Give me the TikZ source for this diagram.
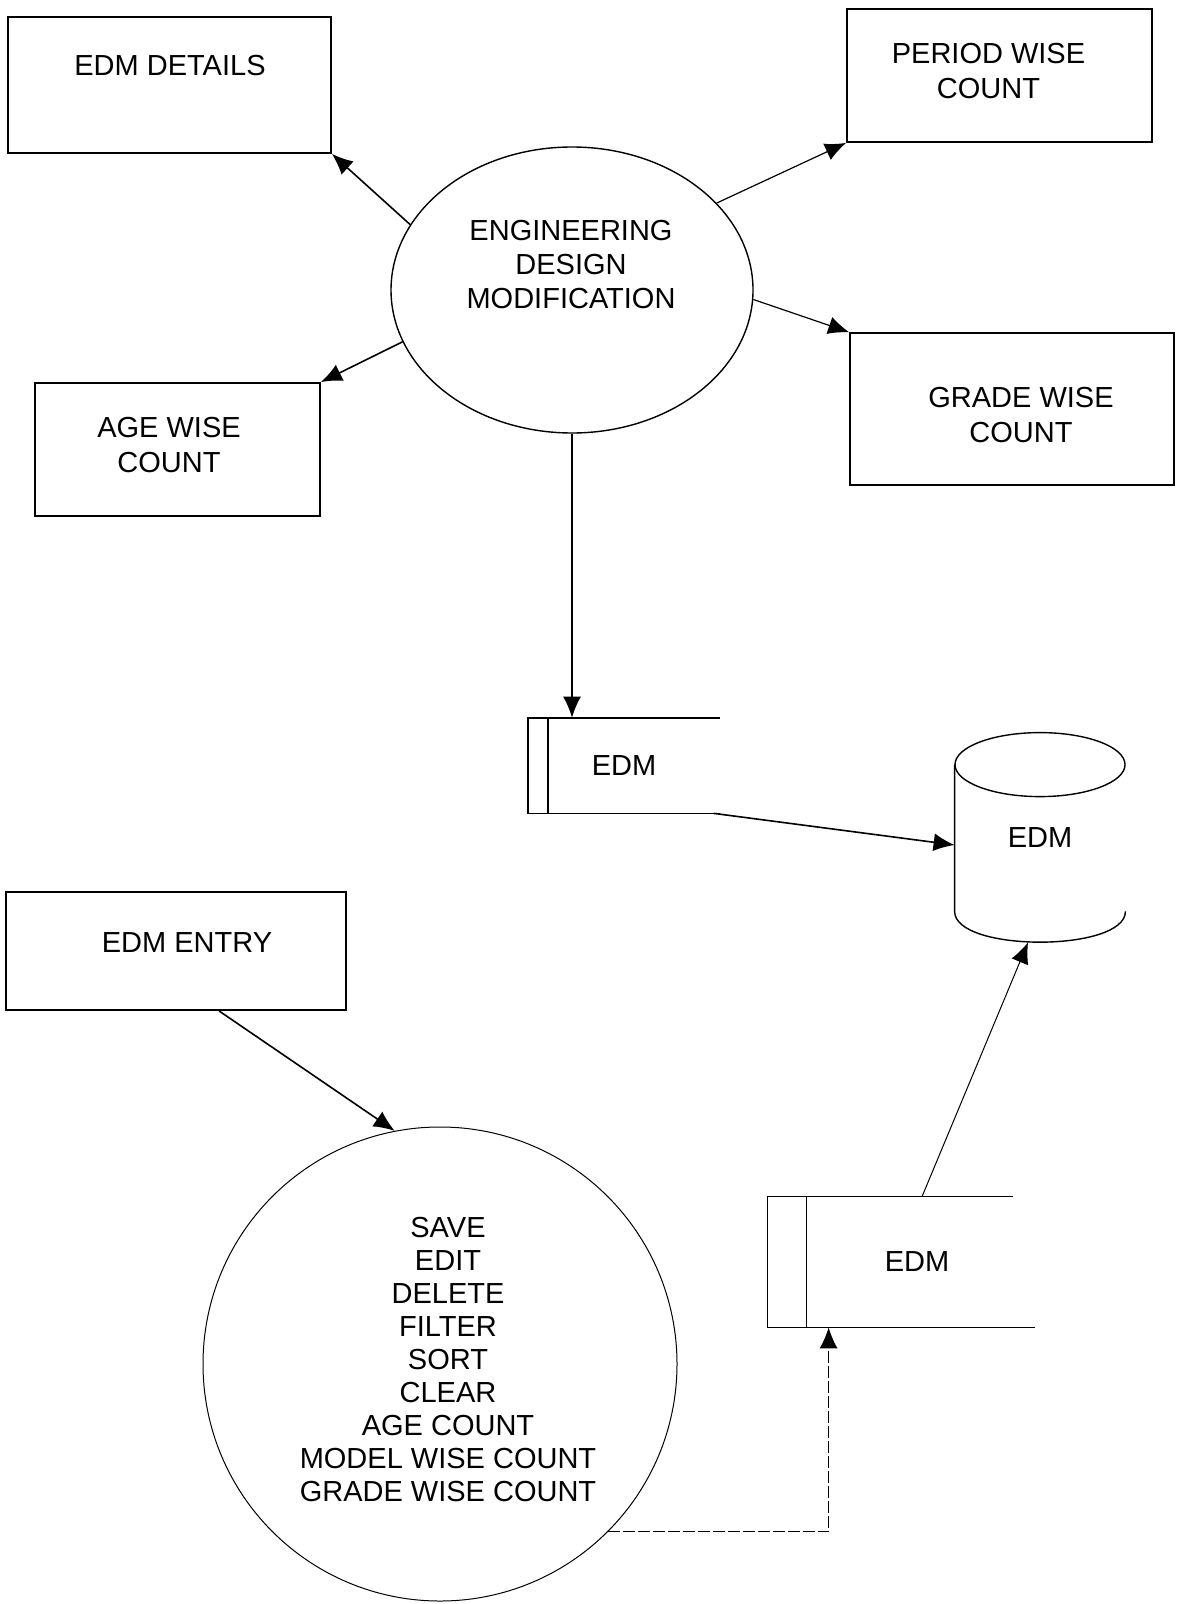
\documentclass[tikz,border=0pt]{standalone}
\usepackage{fontspec}
\setmainfont{Liberation Sans}
\usetikzlibrary{arrows.meta,shapes.geometric}

\begin{document}
\begin{tikzpicture}[x=0.5pt,y=-0.5pt,>={Latex[length=10.5pt,width=9pt]},
  every node/.style={font=\fontsize{14.5}{17}\selectfont,inner sep=0pt,align=center}]
\tikzset{box/.style={draw,line width=0.9pt},
  boxtext/.style={font=\fontsize{14.5}{17.75}\selectfont},
  flow/.style={->,line width=0.8pt},
  thinflow/.style={->,line width=0.5pt}}
\useasboundingbox (0,0) rectangle (1183,1604);

% processes
\node[ellipse,draw,line width=0.7pt,minimum width=181pt,minimum height=143pt] (edm) at (572,290) {};
\node (edmT) at (571,265) {ENGINEERING\\DESIGN\\MODIFICATION};
\node[circle,draw,line width=0.5pt,minimum size=237pt] (ops) at (440,1364) {};
\node[font=\fontsize{14.5}{16.55}\selectfont] (opsT) at (448,1359.5)
  {SAVE\\EDIT\\DELETE\\FILTER\\SORT\\CLEAR\\AGE COUNT\\MODEL WISE COUNT\\GRADE WISE COUNT};

% reports and entry
\node[box,minimum width=161.5pt,minimum height=68pt] (det) at (169.5,85) {};
\node[boxtext] (detT) at (170,65.5) {EDM DETAILS};
\node[box,minimum width=152.5pt,minimum height=66.5pt] (period) at (999.5,75.5) {};
\node[boxtext] (periodT) at (988.5,71) {PERIOD WISE\\COUNT};
\node[box,minimum width=142.5pt,minimum height=66.5pt] (age) at (177.5,449.5) {};
\node[boxtext] (ageT) at (169,445) {AGE WISE\\COUNT};
\node[box,line width=0.7pt,minimum width=162pt,minimum height=76pt] (grade) at (1012,409) {};
\node[boxtext] (gradeT) at (1021,415) {GRADE WISE\\COUNT};
\node[box,minimum width=170pt,minimum height=59pt] (entry) at (176,951) {};
\node[boxtext] (entryT) at (187,942.5) {EDM ENTRY};

% data stores
\node[minimum width=95.5pt,minimum height=47.5pt] (s1) at (624,765.5) {EDM};
\draw[line width=0.9pt] (s1.north east) -- (s1.north west) -- (s1.south west) -- (s1.south east);
\draw[line width=0.9pt] ([xshift=10pt]s1.north west) -- ([xshift=10pt]s1.south west);

\node[minimum width=110pt,minimum height=65pt] (s2) at (917,1262) {EDM};
\draw[line width=0.6pt] ([xshift=-7pt]s2.north east) -- ([xshift=-19.5pt]s2.north west)
  -- ([xshift=-19.5pt]s2.south west) -- ([xshift=4pt]s2.south east);
\draw[line width=0.6pt] (s2.north west) -- (s2.south west);

% database
\node[minimum width=85pt,minimum height=73pt] (db) at (1040,838) {EDM};
\draw[line width=0.7pt] (db.north) ellipse [x radius=85, y radius=32];
\draw[line width=0.7pt] (db.north west) -- (db.south west)
  .. controls ([yshift=-20.5pt]db.south west) and ([yshift=-20.5pt]db.south east) .. (db.south east);

% flows
\draw[flow] (edm.158) -- (det.south east);
\draw[flow] (edm.197) -- (age.north east);
\draw[flow,line width=0.6pt] (edm.31) -- (period.south west);
\draw[flow,line width=0.6pt] (edm.357) -- (grade.north west);
\draw[flow,line width=0.6pt] (edm.south) -- (edm.south |- s1.north);
\draw[flow] ([xshift=-3pt]s1.south east) -- ([yshift=-3.5pt]db.west);
\draw[flow] ([xshift=21.5pt]entry.south) -- (ops.101);
\draw[thinflow] ([xshift=2.5pt]s2.north) -- ([xshift=-6pt,yshift=-15.5pt]db.south);
\draw[thinflow,dash pattern=on 6pt off 1.5pt] (ops.315) -| ([xshift=11pt]s2.south west);
\end{tikzpicture}
\end{document}
